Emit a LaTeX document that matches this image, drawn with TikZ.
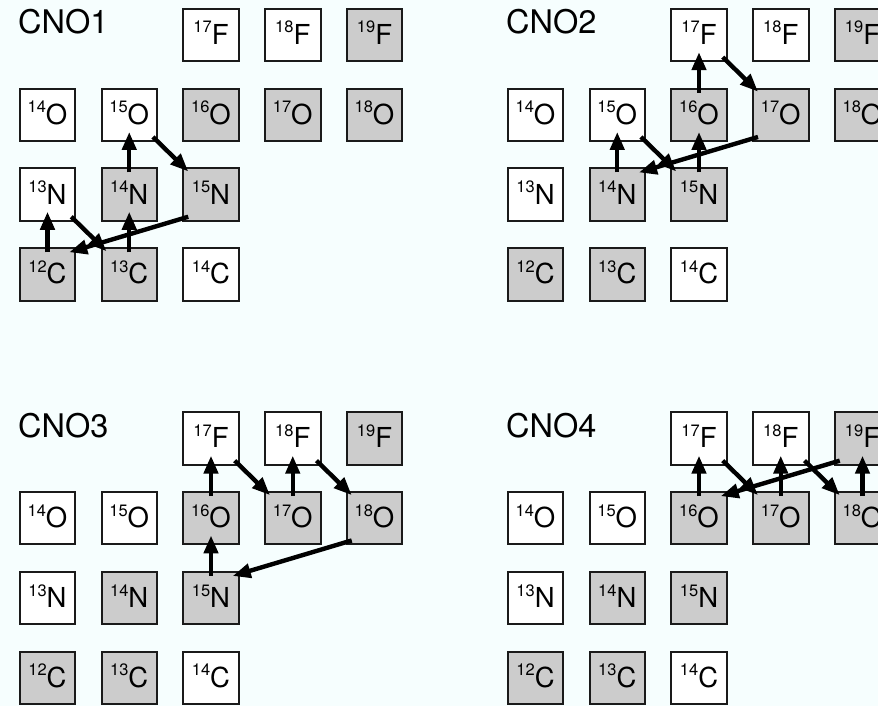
\documentclass[tikz,border=0pt]{standalone}
\usepackage{fontspec}
\setmainfont{TeX Gyre Heros}
\usetikzlibrary{arrows.meta,calc}
\definecolor{bgc}{HTML}{F6FEFE}
\definecolor{stab}{HTML}{CCCCCC}
\definecolor{edgec}{HTML}{1A1A1A}
\newcommand{\isosup}[1]{\raisebox{11.5pt}{\fontsize{16.5}{16.5}\selectfont #1}}
\newcommand{\upflow}[2]{\draw[flow] ($(#1.north)+(0,5)$) -- ($(#2.south)+(0,-10)$);}
\newcommand{\betaflow}[2]{\draw[flow] ($(#1.south east)+(-5,-5)$) -- ($(#2.north west)+(6,4)$);}
\newcommand{\alphaflow}[2]{\draw[flow] ($(#1.south west)+(6,-5)$) -- ($(#2.north east)+(-7,5)$);}
\newcommand{\drawpanel}[4]{%
  \begin{scope}[shift={(#2,#3)}]
    \node[title] (#1title) at (18,33.5) {#4};
    \node[stable] (#1c12) at (47.5,274.4) {\isosup{12}C};
    \node[stable] (#1c13) at (129.25,274.4) {\isosup{13}C};
    \node[unst]   (#1c14) at (211,274.4) {\isosup{14}C};
    \node[unst]   (#1n13) at (47.5,194.6) {\isosup{13}N};
    \node[stable] (#1n14) at (129.25,194.6) {\isosup{14}N};
    \node[stable] (#1n15) at (211,194.6) {\isosup{15}N};
    \node[unst]   (#1o14) at (47.5,114.8) {\isosup{14}O};
    \node[unst]   (#1o15) at (129.25,114.8) {\isosup{15}O};
    \node[stable] (#1o16) at (211,114.8) {\isosup{16}O};
    \node[stable] (#1o17) at (292.75,114.8) {\isosup{17}O};
    \node[stable] (#1o18) at (374.5,114.8) {\isosup{18}O};
    \node[unst]   (#1f17) at (211,35) {\isosup{17}F};
    \node[unst]   (#1f18) at (292.75,35) {\isosup{18}F};
    \node[stable] (#1f19) at (374.5,35) {\isosup{19}F};
  \end{scope}}

\begin{document}
\begin{tikzpicture}[x=1pt,y=-1pt,
  iso/.style={draw=edgec, line width=2pt, minimum width=55.5pt, minimum height=52.3pt,
    inner sep=0pt, font=\fontsize{27.5}{27.5}\selectfont, text height=18.8pt, text depth=0pt},
  unst/.style={iso, fill=white},
  stable/.style={iso, fill=stab},
  flow/.style={line width=4.4pt, -{Triangle[length=18pt,width=14pt]}},
  title/.style={anchor=base west, inner sep=0pt, font=\fontsize{32.5}{32.5}\selectfont}]
\fill[bgc] (0,0) rectangle (878,706);
\useasboundingbox (0,0) rectangle (878,706);
\clip (0,0) rectangle (878,706);

\drawpanel{A}{0}{0}{CNO1}
\drawpanel{B}{488}{0}{CNO2}
\drawpanel{C}{0}{403.5}{CNO3}
\drawpanel{D}{488}{403.5}{CNO4}

% CNO1
\upflow{Ac12}{An13}
\betaflow{An13}{Ac13}
\upflow{Ac13}{An14}
\upflow{An14}{Ao15}
\betaflow{Ao15}{An15}
\alphaflow{An15}{Ac12}

% CNO2
\upflow{Bn14}{Bo15}
\betaflow{Bo15}{Bn15}
\upflow{Bn15}{Bo16}
\upflow{Bo16}{Bf17}
\betaflow{Bf17}{Bo17}
\alphaflow{Bo17}{Bn14}

% CNO3
\upflow{Cn15}{Co16}
\upflow{Co16}{Cf17}
\betaflow{Cf17}{Co17}
\upflow{Co17}{Cf18}
\betaflow{Cf18}{Co18}
\alphaflow{Co18}{Cn15}

% CNO4
\upflow{Do16}{Df17}
\betaflow{Df17}{Do17}
\upflow{Do17}{Df18}
\betaflow{Df18}{Do18}
\upflow{Do18}{Df19}
\alphaflow{Df19}{Do16}
\end{tikzpicture}
\end{document}
